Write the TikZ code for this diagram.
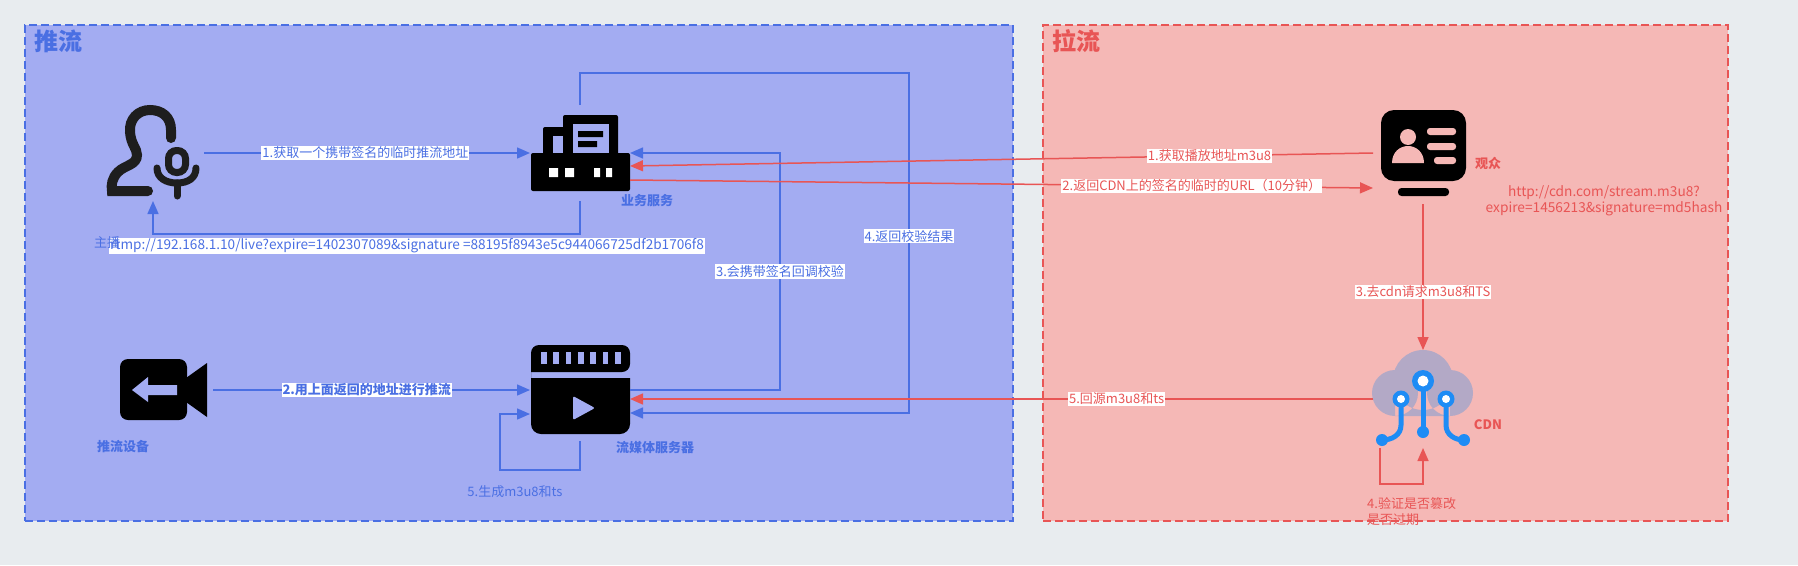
\documentclass[tikz,border=0pt]{standalone}
\usepackage{fontspec}
\setmainfont{Noto Sans CJK SC}
\usepackage{tikz}
\usetikzlibrary{arrows.meta,positioning,calc}
\definecolor{PageGray}{HTML}{E8ECEF}
\definecolor{PushFill}{HTML}{A3ACF2}
\definecolor{PushLine}{HTML}{4A6FE3}
\definecolor{PullFill}{HTML}{F5B8B6}
\definecolor{PullLine}{HTML}{E85555}
\definecolor{CloudFill}{HTML}{B3A9C6}
\definecolor{CloudLine}{HTML}{1E8CF5}
\definecolor{UserInk}{HTML}{1E1E1E}

\begin{document}
\begin{tikzpicture}[
  x=1pt,y=-1pt,
  font=\fontsize{13}{16}\selectfont,
  panel/.style={draw=#1Line,fill=#1Fill,line width=1.4pt,dash pattern=on 8pt off 4pt,inner sep=0pt,outer sep=0pt},
  iconbox/.style={inner sep=0pt,outer sep=0pt,minimum width=100pt,minimum height=96pt},
  title/.style={font=\fontsize{24}{28}\selectfont\bfseries,text=#1Line},
  tag/.style={font=\fontsize{13}{16}\selectfont\bfseries,text=#1Line},
  note/.style={text=#1Line,align=left,inner sep=0pt},
  lab/.style={fill=white,text=#1Line,inner sep=1pt},
  arr/.style={-{Triangle[length=13pt,width=11pt]},draw=#1Line,line width=1.5pt},
  hole/.style={fill=#1Fill},
  solid ink/.style={fill=black,rounded corners=2pt},
  cloudwire/.style={draw=CloudLine,line width=5pt},
  userstroke/.style={draw=UserInk,line cap=round,line width=#1}
]
  \fill[PageGray] (0,0) rectangle (1798,565);
  \node[panel=Push,minimum width=988pt,minimum height=496pt] (pushzone) at (519,273) {};
  \node[panel=Pull,minimum width=685pt,minimum height=496pt] (pullzone) at (1385.5,273) {};
  \node[title=Push,anchor=west] (pushtitle) at (31,41) {推流};
  \node[title=Pull,anchor=west] (pulltitle) at (1049,41) {拉流};

  % Boxes the connectors start and end on; the drawn icons sit inside them
  \node[iconbox,minimum width=102pt] (anchor) at (153,153) {};
  \node[iconbox] (biz) at (580,153) {};
  \node[iconbox] (device) at (163,390) {};
  \node[iconbox,minimum height=102pt] (video) at (580,390) {};
  \node[iconbox,minimum height=102pt] (viewer) at (1423,153) {};
  \node[iconbox,minimum height=98pt] (cdn) at (1423,399) {};

  % Anchor icon
  \draw[userstroke=10pt] (171,138) -- (171,130) .. controls (171,117) and (162,110) .. (150,110)
    .. controls (138,110) and (129,119) .. (130,132) .. controls (131,145) and (137,148) .. (137,155)
    .. controls (137,165) and (125,165) .. (118,172) .. controls (112,178) and (111,185) .. (112,191) -- (148,191);
  \draw[draw=UserInk,line width=7pt,rounded corners=8pt] (168.5,150.5) rectangle (185.5,172.5);
  \draw[userstroke=7pt] (157,168) .. controls (157,178) and (166,183) .. (177,183) .. controls (188,183) and (196,178) .. (196,168);
  \draw[userstroke=7pt] (177,183) -- (177,196);

  % Business server icon
  \fill[solid ink] (531,153) rectangle (630,191);
  \fill[solid ink] (563,115) rectangle (618,156);
  \fill[solid ink] (543,127) rectangle (566,156);
  \fill[hole=Push] (553,136) rectangle (563,153);
  \fill[hole=Push] (573,124) rectangle (609,153);
  \fill (578,131) rectangle (603,137) (578,141) rectangle (597,147);
  \fill[white] (549,168) rectangle (558,177) (565,168) rectangle (574,177)
    (594,168) rectangle (600,177) (606,168) rectangle (612,177);

  % Media server icon
  \fill[rounded corners=8pt] (531,372) -- (531,345) -- (630,345) -- (630,372) [sharp corners] -- cycle;
  \fill[rounded corners=10pt] (531,378) [sharp corners] -- (630,378) [rounded corners=10pt] -- (630,434) -- (531,434) -- (531,378) [sharp corners] -- cycle;
  \foreach \slot in {541,553.3,565.7,578,590.3,602.7,615}
    \fill[hole=Push] (\slot,352) rectangle ++(5.5,12);
  \fill[hole=Push,rounded corners=2pt] (573,396) -- (595,408) -- (573,420) -- cycle;

  % Camera icon
  \fill[rounded corners=8pt] (120,359) rectangle (187,420);
  \fill (186,378) -- (207,363) -- (207,417) -- (186,402) -- cycle;
  \fill[hole=Push] (132,390) -- (148,377) -- (148,385) -- (177,385) -- (177,395) -- (148,395) -- (148,402) -- cycle;

  % Viewer icon
  \fill[rounded corners=13pt] (1381,110) rectangle (1466,181);
  \fill[rounded corners=3.5pt] (1398,188) rectangle (1449,196);
  \fill[hole=Pull] (1408,137) circle (8);
  \fill[hole=Pull] (1392,163) .. controls (1392,152) and (1400,146) .. (1408,146) .. controls (1416,146) and (1424,152) .. (1424,163) -- cycle;
  \fill[hole=Pull,rounded corners=3pt] (1427,128) rectangle (1456,135) (1427,143) rectangle (1456,150) (1434,157) rectangle (1456,164);

  % CDN icon
  \fill[CloudFill] (1395,393) circle (23) (1423,380) circle (30) (1450,393) circle (23) (1395,390) rectangle (1450,416);
  \draw[cloudwire] (1401,399) -- (1401,425) .. controls (1401,435) and (1392,440) .. (1382,440);
  \draw[cloudwire] (1446,399) -- (1446,425) .. controls (1446,435) and (1455,440) .. (1464,440);
  \draw[cloudwire] (1423,381) -- (1423,432);
  \fill[CloudLine] (1382,440) circle (6) (1423,432) circle (6) (1464,440) circle (6);
  \fill[CloudLine] (1423,381) circle (11) (1401,399) circle (8.5) (1446,399) circle (8.5);
  \fill[white] (1423,381) circle (5.5) (1401,399) circle (4) (1446,399) circle (4);

  % Push side
  \coordinate (railthree) at (780,390);
  \coordinate (railfour) at (909,73);
  \coordinate (loopcorner) at (500,470);
  \coordinate (videoback) at ([yshift=-23pt]video.east);
  \draw[arr=Push] (anchor) -- node[lab=Push,pos=0.495] {1.获取一个携带签名的临时推流地址} (biz);
  \draw[arr=Push] (biz.south) -- ++(0,33) -| (anchor.south);
  \draw[arr=Push] (device) -- node[lab=Push,font=\fontsize{13}{16}\selectfont\bfseries,pos=0.485] {2.用上面返回的地址进行推流} (video);
  \draw[arr=Push] (video.east) -- (railthree) -- node[lab=Push] {3.会携带签名回调校验} (railthree |- biz.east) -- (biz.east);
  \draw[arr=Push] (biz.north) |- (railfour) -- node[lab=Push,pos=0.48] {4.返回校验结果} (railfour |- videoback) -- (videoback);
  \draw[arr=Push] (video.south) |- (loopcorner) |- ([yshift=-24pt]video.west);

  % Pull side
  \coordinate (checkcorner) at (1380,484);
  \draw[arr=Pull] (viewer.west) -- node[lab=Pull,pos=0.22] {1.获取播放地址m3u8} ([yshift=-13pt]biz.east);
  \draw[arr=Pull] ([yshift=-27pt]biz.east) -- node[lab=Pull,pos=0.756] {2.返回CDN上的签名的临时的URL（10分钟）} ([yshift=-35pt]viewer.west);
  \draw[arr=Pull] (viewer.south) -- node[lab=Pull,pos=0.6] {3.去cdn请求m3u8和TS} (cdn.north);
  \draw[arr=Pull] (cdn.west) -- node[lab=Pull,pos=0.345] {5.回源m3u8和ts} ([yshift=-9pt]video.east);
  \draw[arr=Pull] (checkcorner |- cdn.south) -- (checkcorner) -| (cdn.south);

  % Free standing texts
  \node[lab=Push,font=\fontsize{13.6}{16}\selectfont] (rtmplabel) at (407,246) {rtmp://192.168.1.10/live?expire=1402307089\&signature =88195f8943e5c944066725df2b1706f8};
  \node[note=Push] at (107,243) (anchorname) {主播};
  \node[tag=Push] at (647,201) (bizname) {业务服务};
  \node[tag=Push] at (123,447) (devicename) {推流设备};
  \node[tag=Push] at (655,448) (videoname) {流媒体服务器};
  \node[note=Push] at (515,492) (loopnote) {5.生成m3u8和ts};
  \node[tag=Pull] at (1488,163) (viewername) {观众};
  \node[tag=Pull] at (1488,425) (cdnname) {CDN};
  \node[note=Pull,align=center,font=\fontsize{13.7}{16}\selectfont] at (1604,201) (urlnote) {http://cdn.com/stream.m3u8?\\expire=1456213\&signature=md5hash};
  \node[note=Pull,anchor=north west] at (1367,497) (checknote) {4.验证是否篡改\\是否过期};
\end{tikzpicture}
\end{document}
